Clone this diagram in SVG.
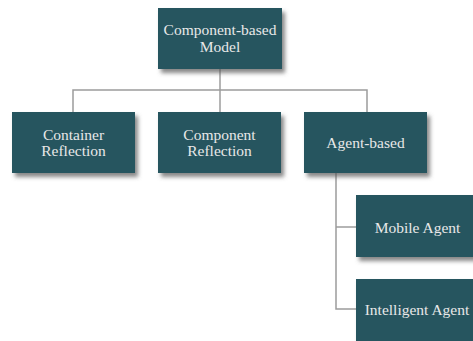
<svg xmlns="http://www.w3.org/2000/svg" width="473" height="341" viewBox="0 0 473 341">
  <defs>
    <filter id="sh" x="-10%" y="-10%" width="130%" height="140%">
      <feDropShadow dx="3" dy="4" stdDeviation="2" flood-color="#555" flood-opacity="0.7"/>
    </filter>
  </defs>
  <style>
    .box { fill: #26555f; filter: url(#sh); }
    .t { font-family: "Liberation Serif", "Times New Roman", serif; font-size: 15.5px; fill: #e8e8e8; text-anchor: middle; }
    .c { fill: none; stroke: #9c9c9c; stroke-width: 1.5; }
  </style>
  <rect width="473" height="341" fill="#ffffff"/>
  <g id="connectors">
    <path class="c" d="M220,69 V112"/>
    <path class="c" d="M73,112 V90 H367 V112"/>
    <path class="c" d="M336,173 V309 H356"/>
    <path class="c" d="M336,227 H356"/>
  </g>
  <g id="node-model">
    <rect class="box" x="158" y="8" width="124" height="61"/>
    <text class="t" x="220" y="35">Component-based</text>
    <text class="t" x="220" y="52">Model</text>
  </g>
  <g id="node-container">
    <rect class="box" x="12" y="112" width="123" height="61"/>
    <text class="t" x="73.5" y="140">Container</text>
    <text class="t" x="73.5" y="156">Reflection</text>
  </g>
  <g id="node-component">
    <rect class="box" x="158" y="112" width="123" height="61"/>
    <text class="t" x="219.5" y="140">Component</text>
    <text class="t" x="219.5" y="156">Reflection</text>
  </g>
  <g id="node-agent">
    <rect class="box" x="304" y="112" width="123" height="61"/>
    <text class="t" x="365.5" y="148">Agent-based</text>
  </g>
  <g id="node-mobile">
    <rect class="box" x="356" y="195" width="123" height="62"/>
    <text class="t" x="417.5" y="233">Mobile Agent</text>
  </g>
  <g id="node-intelligent">
    <rect class="box" x="356" y="279" width="123" height="64"/>
    <text class="t" x="417" y="315">Intelligent Agent</text>
  </g>
</svg>
